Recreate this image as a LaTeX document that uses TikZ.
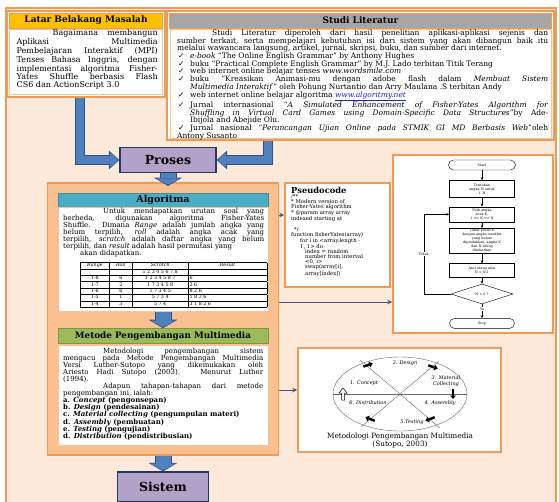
\documentclass[tikz,border=0pt]{standalone}
\usepackage{fontspec}
\setmainfont{DejaVu Serif}
\newfontfamily\symfont{DejaVu Sans}
\usepackage{array}
\usetikzlibrary{arrows.meta, positioning, shapes.geometric}
\definecolor{peach}{RGB}{253,233,217}
\definecolor{orangeline}{RGB}{240,155,85}
\definecolor{orangefill}{RGB}{250,192,144}
\definecolor{gold}{RGB}{255,192,0}
\definecolor{greyhead}{RGB}{166,166,166}
\definecolor{tealhead}{RGB}{75,172,198}
\definecolor{greenhead}{RGB}{155,187,89}
\definecolor{lilac}{RGB}{179,162,199}
\definecolor{navy}{RGB}{31,56,100}
\definecolor{arrowblue}{RGB}{79,129,189}
\definecolor{arrowedge}{RGB}{47,82,143}
\definecolor{linkgrey}{RGB}{68,84,120}
\definecolor{linkblue}{RGB}{20,40,200}
\newcolumntype{C}[1]{>{\centering\arraybackslash}p{#1}}
\newcolumntype{L}[1]{>{\raggedright\arraybackslash}p{#1}}
\newcommand\chk{\noindent\hangindent=13pt\hangafter=1\makebox[13pt][l]{\hspace{1pt}{\symfont ✓}}}
\tolerance=10000
\hbadness=10000

\begin{document}
\begin{tikzpicture}[x=1pt, y=-1pt,
    frame/.style={rectangle, draw=orangeline, line width=1.5pt, fill=white, inner sep=0pt},
    head/.style={rectangle, draw=orangeline, line width=0.6pt, inner sep=0pt, minimum height=15pt, font=\fontsize{9}{10}\selectfont\bfseries},
    panel/.style={rectangle, draw=orangeline!60, line width=0.6pt, fill=white, inner sep=0pt},
    para/.style={anchor=north west, inner sep=0pt, align=justify},
    stage/.style={rectangle, draw=navy, line width=1.3pt, fill=lilac, inner sep=0pt, font=\fontsize{12.5}{14}\selectfont\bfseries},
    bendarrow/.style={draw=arrowblue, line width=8pt, shorten >=1.2pt, -{Triangle[length=8pt,width=15pt,line width=0pt]},
        preaction={draw=arrowedge, line width=10pt, shorten >=0pt, -{Triangle[length=10.5pt,width=19pt,line width=0pt]}}},
    droparrow/.style={draw=arrowblue, line width=15pt, shorten >=1.2pt, -{Triangle[length=6.5pt,width=25pt,line width=0pt]},
        preaction={draw=arrowedge, line width=17pt, shorten >=0pt, -{Triangle[length=8.5pt,width=29pt,line width=0pt]}}},
    link/.style={draw=linkgrey, line width=0.9pt, -{Stealth[length=5pt,width=4.5pt]}},
    fcbox/.style={rectangle, draw, line width=0.4pt, minimum width=65pt, inner sep=0.6pt, align=center, font=\fontsize{3.4}{4}\selectfont},
    fcterm/.style={fcbox, rounded corners=5pt, minimum height=10pt},
    fcnote/.style={inner sep=0.4pt, fill=white, font=\fontsize{3.4}{4}\selectfont},
    fcflow/.style={draw, line width=0.5pt, -{Stealth[length=3pt,width=2.6pt]}},
    cyclemark/.style={line width=2.4pt, -{Triangle[length=3.5pt,width=6pt,line width=0pt]}},
    cyclelabel/.style={inner sep=0pt, align=center, font=\fontsize{5}{5.6}\selectfont\itshape}
]
\useasboundingbox (0,0) rectangle (559,501);
\clip (0,0) rectangle (559,501);

% background
\fill[peach] (6,8) rectangle (556,510);
\draw[orangeline, line width=1.2pt] (6,8) rectangle (556,510);

% Latar Belakang Masalah
\node[frame, minimum width=158pt, minimum height=86pt] (latarframe) at (86,54) {};
\node[head, fill=gold, minimum width=153pt] (latarhead) at (86,20.5) {Latar Belakang Masalah};
\node[panel, minimum width=153pt, minimum height=65pt] (latarbody) at (86,62) {};
\node[para, text width=141pt, font=\fontsize{8}{7.7}\selectfont] (latartext) at (16.5,29.5) {\hspace*{36pt}Bagaimana membangun\linebreak Aplikasi Multimedia\linebreak Pembelajaran Interaktif (MPI)\linebreak Tenses Bahasa Inggris, dengan\linebreak implementasi algoritma Fisher-\linebreak Yates Shuffle berbasis Flash\linebreak CS6 dan ActionScript 3.0};

% Studi Literatur
\node[frame, minimum width=387pt, minimum height=129pt] (studiframe) at (360.5,75.5) {};
\node[head, fill=greyhead, minimum width=382pt] (studihead) at (360.5,20.5) {Studi Literatur};
\node[panel, minimum width=381pt, minimum height=109pt] (studibody) at (360.5,84) {};
\node[para, text width=371pt, font=\fontsize{7.5}{7.7}\selectfont] (studitext) at (177,29.5) {\hspace*{35pt}Studi Literatur diperoleh dari hasil penelitian aplikasi-aplikasi sejenis dan\linebreak
sumber terkait, serta mempelajari kebutuhan isi dari sistem yang akan dibangun baik itu\linebreak
melalui wawancara langsung, artikel, jurnal, skripsi, buku, dan sumber dari internet.\par
\chk\textit{e-book} “The Online English Grammar” by Anthony Hughes\par
\chk buku “Practical Complete English Grammar” by M.J. Lado terbitan Titik Terang\par
\chk web internet online belajar tenses \textit{www.wordsmile.com}\par
\chk buku “Kreasikan Animasi-mu dengan adobe flash dalam \textit{Membuat Sistem}\linebreak \textit{Multimedia Interaktif}” oleh Pohung Nurtantio dan Arry Maulana .S terbitan Andy\par
\chk web internet online belajar algoritma \textcolor{linkblue}{\underline{\textit{www.algoritmy.net}}}\par
\chk Jurnal internasional “\textit{A Simulated Enhancement of Fisher-Yates Algorithm for}\linebreak \textit{Shuffling in Virtual Card Games using Domain-Specific Data Structures}”by Ade-\linebreak Ibijola and Abejide Olu.\par
\chk Jurnal nasional “\textit{Perancangan Ujian Online pada STMIK GI MD Berbasis Web}”oleh\linebreak Antony Susanto};

% Proses
\node[stage, minimum width=96pt, minimum height=25pt] (proses) at (168,160) {Proses};

% Algoritma + Metode
\node[frame, fill=orangefill, minimum width=231pt, minimum height=272pt] (devframe) at (163,319) {};
\node[head, fill=tealhead, draw=tealhead!80!black, minimum width=210pt, minimum height=14pt, font=\fontsize{9.5}{10}\selectfont\bfseries] (algohead) at (163,200) {Algoritma};
\node[panel, minimum width=210pt, minimum height=104.5pt] (algobody) at (163,259.5) {};
\node[para, text width=201pt, font=\fontsize{7}{7.1}\selectfont] (algotext) at (63,207.5) {\hspace*{40pt}Untuk mendapatkan urutan soal yang\linebreak berbeda, digunakan algoritma Fisher-Yates\linebreak Shuffle. Dimana \textit{Range} adalah jumlah angka yang\linebreak belum terpilih, \textit{roll} adalah angka acak yang\linebreak terpilih, \textit{scratch} adalah daftar angka yang belum\linebreak terpilih, dan \textit{result} adalah hasil permutasi yang\par \hspace*{17pt}akan didapatkan.};
\node[anchor=north, inner sep=0pt, font=\fontsize{4.8}{6}\selectfont] (algotable) at (173.5,262) {\setlength\tabcolsep{1pt}%
\begin{tabular}{|C{27pt}|C{20pt}|C{54pt}|L{76pt}|}\hline
\textit{Range} & \textit{Roll} & \textit{Scratch} & \multicolumn{1}{C{76pt}|}{\textit{Result}}\\\hline
 & & 1 2 3 4 5 6 7 8 & \\\hline
1-8 & 6 & 1 2 3 4 5 8 7 & 6\\\hline
1-7 & 2 & 1 7 3 4 5 8 & 2 6\\\hline
1-6 & 6 & 1 7 3 4 5 & 8 2 6\\\hline
1-5 & 1 & 5 7 3 4 & 1 8 2 6\\\hline
1-4 & 3 & 5 7 4 & 3 1 8 2 6\\\hline
\end{tabular}};

\node[head, fill=greenhead, draw=greenhead!80!black, minimum width=210pt, font=\fontsize{8.8}{9.5}\selectfont\bfseries] (metohead) at (163,336) {Metode Pengembangan Multimedia};
\node[panel, minimum width=210pt, minimum height=100pt] (metobody) at (163,395) {};
\node[para, text width=200pt, font=\fontsize{7}{7.1}\selectfont] (metotext) at (63,347.5) {\hspace*{40pt}Metodologi pengembangan sistem\linebreak mengacu pada Metode Pengembangan Multimedia\linebreak Versi Luther-Sutopo yang dikemukakan oleh\linebreak Ariesto Hadi Sutopo (2003). Menurut Luther\linebreak (1994).\par
\hspace*{40pt}Adapun tahapan-tahapan dari metode\linebreak pengembangan ini, ialah:\par
\textbf{a. \textit{Concept} (pengonsepan)}\par
\textbf{b. \textit{Design} (pendesainan)}\par
\textbf{c. \textit{Material collecting} (pengumpulan materi)}\par
\textbf{d. \textit{Assembly} (pembuatan)}\par
\textbf{e. \textit{Testing} (pengujian)}\par
\textbf{d. \textit{Distribution} (pendistribusian)}};

% Sistem
\node[stage, minimum width=91pt, minimum height=30pt] (sistem) at (163,487) {Sistem};

% Pseudocode
\node[frame, minimum width=105pt, minimum height=104pt] (pseudo) at (337.5,235) {};
\node[anchor=north west, inner sep=0pt, font=\fontsize{8.3}{9}\selectfont\bfseries] (pseudotitle) at (291,186.5) {Pseudocode};
\node[below=0.6pt of pseudotitle.south west, anchor=north west, inner sep=0pt, align=left, font=\fontsize{5.3}{5}\selectfont] (pseudocode) {/**\\
{*} Modern version of\\
Fisher-Yates algorithm\\
{*} @param array array\\
indexed starting at\\[5pt]
\hspace*{3pt}*/\\
function fisherYates(array)\\
\hspace*{9pt}for i in <array.length -\\
\hspace*{9pt}1, 1> do\\
\hspace*{14pt}index = random\\
\hspace*{14pt}number from interval\\
\hspace*{14pt}<0, i>\\
\hspace*{14pt}swap(array[i],\\
\hspace*{14pt}array[index])};

% Flowchart
\node[frame, minimum width=160pt, minimum height=178pt] (fcframe) at (473,244) {};
\node[fcterm, minimum width=67pt] (fstart) at (482,165) {Start};
\node[fcbox, below=10pt of fstart, minimum height=17pt] (fset) {Tentukan\\angka N untuk\\1..N};
\node[fcbox, below=9pt of fset, minimum height=15pt] (fpick) {Pilih angka\\acak K,\\1 <= K <= N};
\node[fcbox, below=6pt of fpick, minimum height=25pt] (fswap) {Tukar posisi K\\dengan angka terakhir\\yang belum\\dipindahkan, angka K\\dan N saling\\ditukarkan};
\node[fcbox, below=10pt of fswap, minimum height=14pt] (fdec) {Atur ulang nilai\\N = N-1};
\node[fcbox, diamond, aspect=3, below=6pt of fdec, minimum width=62pt, minimum height=20pt] (fcheck) {N = 0 ?};
\node[fcterm, below=14pt of fcheck] (fstop) {Stop};
\draw[fcflow] (fstart) -- (fset);
\draw[fcflow] (fset) -- (fpick);
\draw[fcflow] (fpick) -- (fswap);
\draw[fcflow] (fswap) -- (fdec);
\draw[fcflow] (fdec) -- (fcheck);
\draw[fcflow] (fcheck) -- node[fcnote, pos=0.35] (fyes) {Ya} (fstop);
\draw[fcflow] (fcheck.west) -- ++(-27,0) |- node[fcnote, pos=0.25] (fno) {Tidak} (fpick.west);

% Luther-Sutopo cycle
\node[frame, minimum width=203pt, minimum height=104pt] (cycleframe) at (399.5,400) {};
\draw[line width=0.4pt, black!60] (400,394) ellipse [x radius=67, y radius=37];
\draw[line width=0.4pt, black!60] (333,394) -- (467,394);
\draw[line width=0.4pt, black!60] (360,360) -- (440,428);
\draw[line width=0.4pt, black!60] (439,361) -- (361,427);
\draw[cyclemark] (363.3,366.6) -- (372.7,363.4);
\draw[cyclemark] (428.3,365.3) -- (437.7,368.7);
\draw[cyclemark] (453,389) -- (453,399);
\draw[cyclemark] (434.7,417.2) -- (425.4,420.8);
\draw[cyclemark] (374.7,420.8) -- (365.4,417.2);
\draw[fill=white, line width=0.5pt] (341.5,400) -- (341.5,393) -- (339,393) -- (343,388) -- (347,393) -- (344.5,393) -- (344.5,400) -- cycle;
\node[cyclelabel] (cdesign) at (405,363) {2. Design};
\node[cyclelabel] (cmaterial) at (446,381) {3. Material\\Collecting};
\node[cyclelabel] (cconcept) at (364,383) {1. Concept};
\node[cyclelabel] (cdistrib) at (368,403) {6. Distribution};
\node[cyclelabel] (cassembly) at (440,403) {4. Assembly};
\node[cyclelabel] (ctesting) at (412,422) {5.Testing};
\node[inner sep=0pt, align=center, font=\fontsize{7.3}{7.4}\selectfont] (ccaption) at (400,440.5) {Metodologi Pengembangan Multimedia\\(Sutopo, 2003)};

% Connectors
\draw[bendarrow] ([xshift=-6pt]latarframe.south) |- (proses.west);
\draw[bendarrow] ([xshift=-93pt]studiframe.south) |- (proses.east);
\draw[droparrow] (proses.south) -- (proses.south |- 0,186);
\draw[droparrow] (algobody.south) -- (metohead.north);
\draw[droparrow] (devframe.south) -- (sistem.north);
\draw[link] (devframe.east |- 0,215) -- (pseudo.west |- 0,215);
\draw[link] (devframe.east |- 0,302) -- (fcframe.west |- 0,302);
\draw[link] (devframe.east |- 0,390) -- (cycleframe.west |- 0,390);

\end{tikzpicture}
\end{document}
